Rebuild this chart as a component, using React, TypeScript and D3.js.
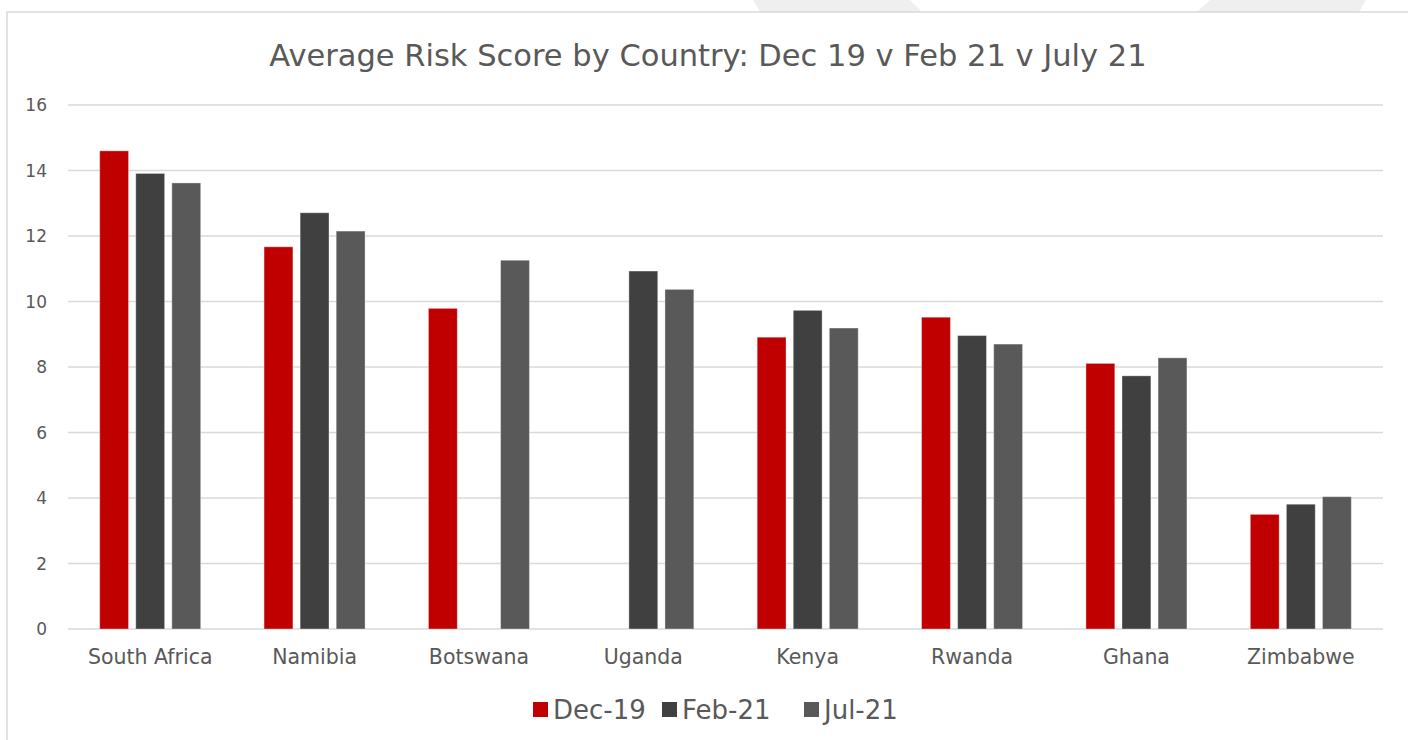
import React from "react";
import * as d3 from "d3";

const categories = ["South Africa", "Namibia", "Botswana", "Uganda", "Kenya", "Rwanda", "Ghana", "Zimbabwe"];
const seriesNames = ["Dec-19", "Feb-21", "Jul-21"];
const dec19: (number | null)[] = [14.6, 11.67, 9.79, null, 8.91, 9.52, 8.11, 3.5];
const feb21: (number | null)[] = [13.91, 12.71, null, 10.93, 9.73, 8.96, 7.73, 3.81];
const jul21: (number | null)[] = [13.62, 12.15, 11.26, 10.37, 9.19, 8.7, 8.28, 4.04];
const yTicks = [0, 2, 4, 6, 8, 10, 12, 14, 16];
const colors = ["#c00000", "#404040", "#595959"];

const W = 1408;
const H = 740;
const FONT = "'DejaVu Sans', sans-serif";
const TEXT = "#595959";

export default function App() {
  const left = 68, right = 1383, top = 105, bottom = 629;
  const y = d3.scaleLinear().domain([0, 16]).range([bottom, top]);
  const x0 = d3.scaleBand<string>().domain(categories).range([left, right]).padding(0);
  const groupW = 101;
  const x1 = d3.scaleBand<string>().domain(seriesNames).range([0, groupW]).paddingInner(0.2);
  const all = [dec19, feb21, jul21];

  return (
    <svg width={W} height={H} style={{ position: "absolute", left: 0, top: 0, background: "#fff" }}>
      <polygon points="753,0 910,0 922,12 760,12" fill="#efefef" />
      <polygon points="1210,0 1366,0 1359,12 1197,12" fill="#efefef" />
      <rect x={7} y={12} width={W + 10} height={H + 10} fill="#fff" stroke="#d9d9d9" strokeWidth={1.5} />
      <text x={708} y={66} textAnchor="middle" fontFamily={FONT} fontSize={30.5} fill={TEXT}>
        Average Risk Score by Country: Dec 19 v Feb 21 v July 21
      </text>
      {yTicks.map((t) => (
        <g key={t}>
          <line x1={left} x2={right} y1={y(t)} y2={y(t)} stroke="#d9d9d9" strokeWidth={1.5} />
          <text x={47} y={y(t) + 6} textAnchor="end" fontFamily={FONT} fontSize={17} fill={TEXT}>
            {t}
          </text>
        </g>
      ))}
      {categories.map((c, i) => {
        const gx = (x0(c) as number) + (x0.bandwidth() - groupW) / 2;
        return (
          <g key={c}>
            {seriesNames.map((s, k) => {
              const v = all[k][i];
              if (v == null) return null;
              return (
                <rect
                  key={s}
                  x={gx + (x1(s) as number)}
                  y={y(v)}
                  width={x1.bandwidth()}
                  height={y(0) - y(v)}
                  fill={colors[k]}
                  stroke="#ffffff"
                  strokeOpacity={0.35}
                  strokeWidth={1}
                />
              );
            })}
            <text x={(x0(c) as number) + x0.bandwidth() / 2} y={664} textAnchor="middle" fontFamily={FONT} fontSize={20.5} fill={TEXT}>
              {c}
            </text>
          </g>
        );
      })}
      {seriesNames.map((s, k) => {
        const lx = [533, 662, 804][k];
        return (
          <g key={s}>
            <rect x={lx} y={702} width={15} height={15} fill={colors[k]} />
            <text x={lx + 20} y={719} fontFamily={FONT} fontSize={26} fill={TEXT}>
              {s}
            </text>
          </g>
        );
      })}
    </svg>
  );
}
